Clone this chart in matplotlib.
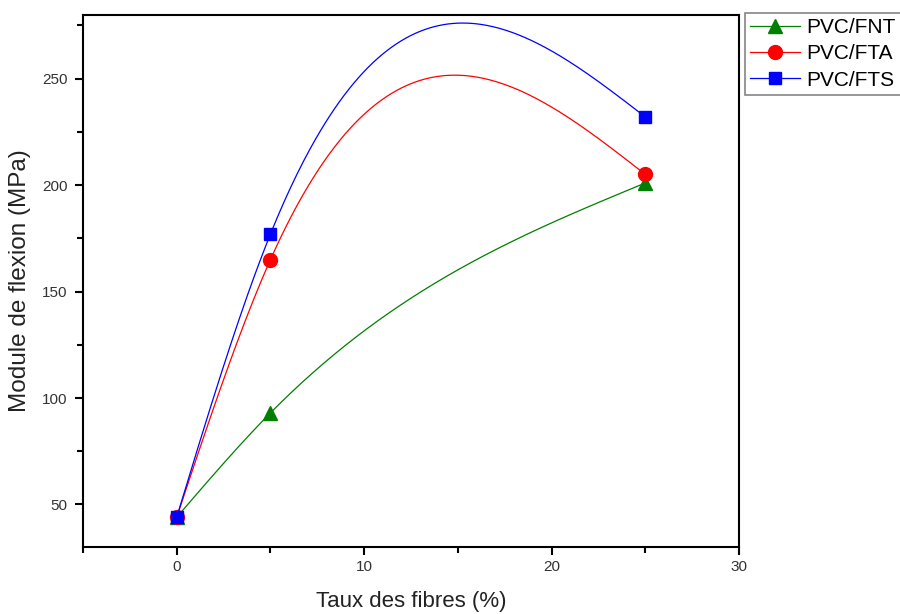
import matplotlib.pyplot as plt
import numpy as np
from matplotlib.ticker import MultipleLocator

plt.rcParams['font.family'] = ['Liberation Sans', 'DejaVu Sans']

taux = [0, 5, 25]
fnt = [44, 93, 201]
fta = [44, 165, 205]
fts = [44, 177, 232]
labels = ['PVC/FNT', 'PVC/FTA', 'PVC/FTS']


def natural_spline(x, y, n=300):
    # natural cubic spline, as Origin's spline connector
    x = np.asarray(x, float)
    y = np.asarray(y, float)
    k = len(x)
    h = np.diff(x)
    A = np.zeros((k, k))
    r = np.zeros(k)
    A[0, 0] = 1
    A[-1, -1] = 1
    for i in range(1, k - 1):
        A[i, i - 1] = h[i - 1]
        A[i, i] = 2 * (h[i - 1] + h[i])
        A[i, i + 1] = h[i]
        r[i] = 6 * ((y[i + 1] - y[i]) / h[i] - (y[i] - y[i - 1]) / h[i - 1])
    M = np.linalg.solve(A, r)
    xs = np.linspace(x[0], x[-1], n)
    idx = np.clip(np.searchsorted(x, xs) - 1, 0, k - 2)
    x0, x1 = x[idx], x[idx + 1]
    hh = h[idx]
    ys = (M[idx] * (x1 - xs) ** 3 / (6 * hh) + M[idx + 1] * (xs - x0) ** 3 / (6 * hh)
          + (y[idx] / hh - M[idx] * hh / 6) * (x1 - xs)
          + (y[idx + 1] / hh - M[idx + 1] * hh / 6) * (xs - x0))
    return xs, ys


fig = plt.figure(figsize=(9, 6.14), dpi=100)
ax = fig.add_axes([0.0922, 0.109, 0.729, 0.867])

styles = [('#007f00', '^', 10), ('red', 'o', 10), ('blue', 's', 9)]
for vals, lab, (c, m, ms) in zip([fnt, fta, fts], labels, styles):
    xs, ys = natural_spline(taux, vals)
    ax.plot(xs, ys, color=c, lw=0.9)
    ax.plot(taux, vals, linestyle='none', marker=m, color=c, markersize=ms)
    ax.plot([], [], color=c, lw=0.9, marker=m, markersize=ms, label=lab)

ax.set_xlim(-5, 30)
ax.set_ylim(30, 280)
ax.xaxis.set_major_locator(MultipleLocator(10))
ax.xaxis.set_minor_locator(MultipleLocator(5))
ax.yaxis.set_major_locator(MultipleLocator(50))
ax.yaxis.set_minor_locator(MultipleLocator(25))
ax.tick_params(which='both', direction='out', top=False, right=False, width=1.5,
               labelsize=11, labelcolor='#333333')
ax.tick_params(which='major', length=6)
ax.tick_params(which='minor', length=4)
ax.tick_params(axis='y', pad=5)
for s in ax.spines.values():
    s.set_linewidth(1.5)

ax.set_xlabel('Taux des fibres (%)', fontsize=16, color='#222222', labelpad=12)
ax.set_ylabel('Module de flexion (MPa)', fontsize=17.5, color='#222222', labelpad=8)

leg = fig.legend(loc='upper left', bbox_to_anchor=(0.828, 0.979), fontsize=15,
                 handlelength=2.4, fancybox=False, edgecolor='#666666',
                 borderpad=0.25, labelspacing=0.35, handletextpad=0.3, borderaxespad=0)
leg.get_frame().set_linewidth(1.2)

fig.savefig('out.png', dpi=100)
